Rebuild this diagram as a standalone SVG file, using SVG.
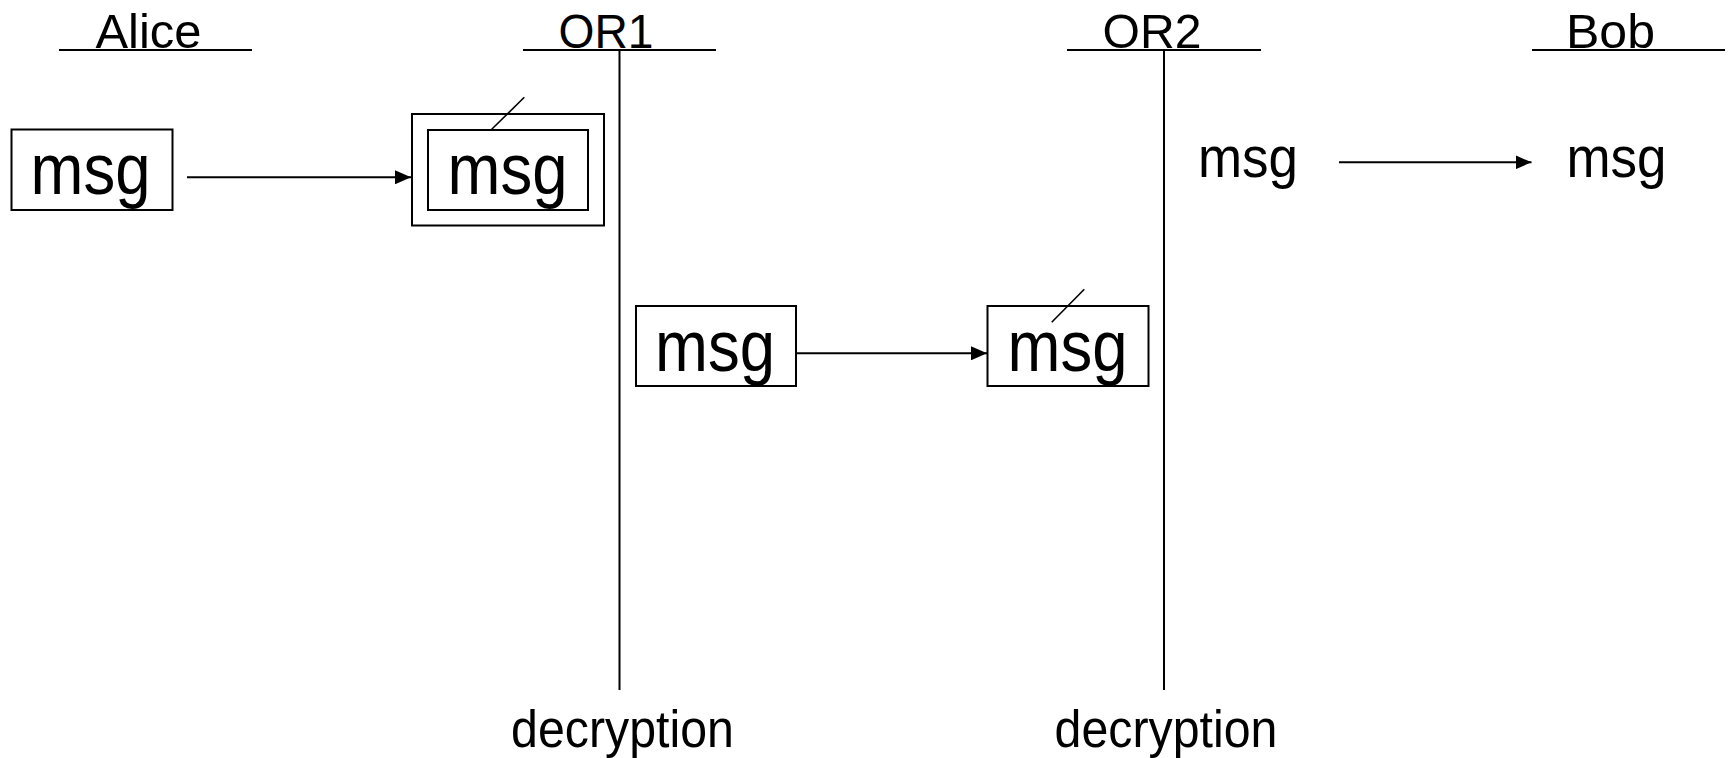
<svg xmlns="http://www.w3.org/2000/svg" width="1732" height="758" viewBox="0 0 1732 758">
  <style>
    .ln { stroke: #000; stroke-width: 2; fill: none; }
    .box { stroke: #000; stroke-width: 2; fill: #fff; }
    .thin { stroke: #000; stroke-width: 1.6; fill: none; }
    text { font-family: "Liberation Sans", Arial, sans-serif; fill: #000; }
    .head { font-size: 49px; }
    .big { font-size: 72px; }
    .mid { font-size: 57px; }
    .note { font-size: 51px; }
  </style>
  <defs>
    <marker id="arrow" markerUnits="userSpaceOnUse" markerWidth="16" markerHeight="14" refX="16" refY="7" orient="auto">
      <path d="M0,0 L16,7 L0,14 z" fill="#000"/>
    </marker>
  </defs>
  <rect width="1732" height="758" fill="#fff"/>

  <!-- participant headers and lifelines -->
  <g id="alice">
    <text class="head" x="95.5" y="48" textLength="106" lengthAdjust="spacingAndGlyphs">Alice</text>
    <line class="ln" x1="59" y1="50" x2="252" y2="50"/>
  </g>
  <g id="or1">
    <text class="head" x="558.5" y="48" textLength="95" lengthAdjust="spacingAndGlyphs">OR1</text>
    <line class="ln" x1="523" y1="50" x2="716" y2="50"/>
    <line class="ln" x1="619.5" y1="50" x2="619.5" y2="690"/>
  </g>
  <g id="or2">
    <text class="head" x="1102.5" y="48" textLength="99" lengthAdjust="spacingAndGlyphs">OR2</text>
    <line class="ln" x1="1067" y1="50" x2="1261" y2="50"/>
    <line class="ln" x1="1164" y1="50" x2="1164" y2="690"/>
  </g>
  <g id="bob">
    <text class="head" x="1566" y="48" textLength="89" lengthAdjust="spacingAndGlyphs">Bob</text>
    <line class="ln" x1="1532" y1="50" x2="1725" y2="50"/>
  </g>

  <!-- messages -->
  <g id="msg-alice">
    <rect class="box" x="11.5" y="129.5" width="161" height="80.5"/>
    <text class="big" x="30.5" y="194" textLength="120" lengthAdjust="spacingAndGlyphs">msg</text>
  </g>
  <g id="msg-or1-in">
    <rect class="box" x="412" y="114" width="192" height="111.5"/>
    <rect class="box" x="428" y="130" width="160" height="80"/>
    <line class="thin" x1="491.7" y1="129.3" x2="524.3" y2="97.3"/>
    <text class="big" x="447.5" y="194" textLength="120" lengthAdjust="spacingAndGlyphs">msg</text>
  </g>
  <g id="msg-or1-out">
    <rect class="box" x="636" y="306" width="160" height="80"/>
    <text class="big" x="655" y="370.5" textLength="120" lengthAdjust="spacingAndGlyphs">msg</text>
  </g>
  <g id="msg-or2-in">
    <rect class="box" x="987.5" y="306" width="161" height="80"/>
    <line class="thin" x1="1051.7" y1="322.3" x2="1084.3" y2="289.3"/>
    <text class="big" x="1007.5" y="370.5" textLength="120" lengthAdjust="spacingAndGlyphs">msg</text>
  </g>
  <g id="msg-or2-out">
    <text class="mid" x="1198" y="176.7" textLength="100" lengthAdjust="spacingAndGlyphs">msg</text>
  </g>
  <g id="msg-bob">
    <text class="mid" x="1566.5" y="176.7" textLength="100" lengthAdjust="spacingAndGlyphs">msg</text>
  </g>

  <!-- step labels -->
  <g id="decrypt-or1">
    <text class="note" x="511" y="746.5" textLength="223" lengthAdjust="spacingAndGlyphs">decryption</text>
  </g>
  <g id="decrypt-or2">
    <text class="note" x="1054.5" y="746.5" textLength="223" lengthAdjust="spacingAndGlyphs">decryption</text>
  </g>

  <!-- transfers -->
  <g id="connectors">
    <line class="ln" x1="187" y1="177.3" x2="411" y2="177.3" marker-end="url(#arrow)"/>
    <line class="ln" x1="796" y1="353.3" x2="987" y2="353.3" marker-end="url(#arrow)"/>
    <line class="ln" x1="1339" y1="162.3" x2="1531.5" y2="162.3" marker-end="url(#arrow)"/>
  </g>
</svg>
